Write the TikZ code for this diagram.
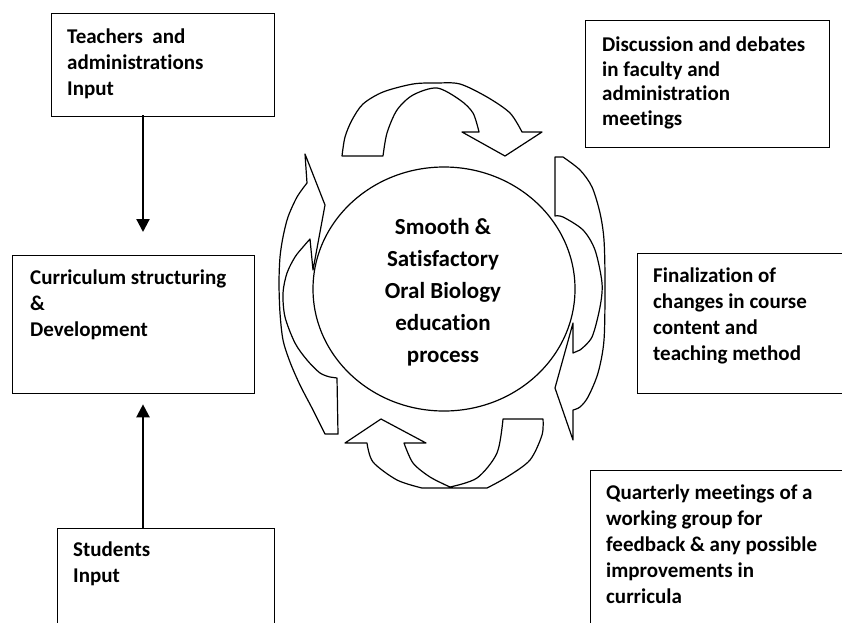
\documentclass[tikz,border=0pt]{standalone}
\usepackage{fontspec}
\setmainfont{Carlito}[Ligatures=NoCommon]
\usetikzlibrary{arrows.meta,shapes.geometric}
\begin{document}
\begin{tikzpicture}[x=1pt,y=-1pt,
  box/.style={draw,line width=1.3pt,inner sep=0pt},
  lbl/.style={anchor=north west,inner sep=0pt,align=left,font=\fontsize{21}{26}\selectfont\bfseries},
  conn/.style={line width=2.2pt,-{Triangle[width=13pt,length=13pt]}},
  carrow/.style={line width=1.2pt,line join=round}]
\clip (0,0) rectangle (842,622);
\fill[white] (0,0) rectangle (842,622);
% boxes
\node[box,anchor=north west,minimum width=223pt,minimum height=103pt] (t) at (51,13) {};
\node[lbl] (tl) at (67,29) {Teachers\ \ and\\administrations\\Input};
\node[box,anchor=north west,minimum width=242pt,minimum height=138pt] (c) at (12,255) {};
\node[lbl] (cl) at (30,270) {Curriculum structuring\\\&\\Development};
\node[box,anchor=north west,minimum width=217pt,minimum height=130pt] (s) at (57,528) {};
\node[lbl] (sl) at (73,542) {Students\\Input};
\node[box,anchor=north west,minimum width=244pt,minimum height=127pt] (d) at (585,20) {};
\node[lbl,font=\fontsize{21}{24.5}\selectfont\bfseries] (dl) at (602,37) {Discussion and debates\\in faculty and\\administration\\meetings};
\node[box,anchor=north west,minimum width=220pt,minimum height=140pt] (f) at (637,253) {};
\node[lbl] (fl) at (653,268) {Finalization of\\changes in course\\content and\\teaching method};
\node[box,anchor=north west,minimum width=270pt,minimum height=180pt] (q) at (590,470) {};
\node[lbl] (ql) at (606,485) {Quarterly meetings of a\\working group for\\feedback \& any possible\\improvements in\\curricula};
% centre
\node[draw,ellipse,line width=1.2pt,minimum width=262pt,minimum height=244pt,inner sep=0pt] (m) at (444,289) {};
\node[align=center,inner sep=0pt,font=\fontsize{23}{32}\selectfont\bfseries] (mt) at (443,292) {Smooth \&\\Satisfactory\\Oral Biology\\education\\process};
% connectors
\coordinate (ta) at ([xshift=92pt]t.south west);
\coordinate (sa) at ([xshift=86pt]s.north west);
\draw[conn,shorten <=-2pt,shorten >=23pt] (ta) -- (ta |- c.north);
\draw[conn,shorten >=10pt] (sa) -- (sa |- c.south);
% curved arrows
\draw[carrow] (342,156) -- plot[smooth] coordinates {(342,156) (345,137) (352,120) (363,104) (383,92) (413,84) (437,83) (460,84) (487,97) (510,113) (522,132)} -- (542,132) -- (505,156) -- (462,132) -- plot[smooth] coordinates {(479,132) (473,113) (460,100) (437,88) (413,95) (397,110) (387,133) (383,156)} -- cycle;
\draw[carrow] (555,157) -- plot[smooth] coordinates {(563,157) (580,170) (592,187) (600,213) (604,240) (605,283) (604,340) (598,373) (588,397) (580,407) (573,410)} -- (573,440) -- (555,388) -- (573,323) -- (573,353) -- plot[smooth] coordinates {(580,350) (592,337) (600,307) (602,283) (595,250) (583,230) (563,217) (555,216)} -- cycle;
\draw[carrow] (325,434) -- (338,434) -- (337,378) -- plot[smooth] coordinates {(330,377) (320,373) (307,360) (295,343) (285,317) (283,293) (287,273) (295,257) (303,247) (310,239)} -- (313,270) -- (325,205) -- (305,154) -- (307,183) -- plot[smooth] coordinates {(307,183) (297,197) (288,217) (283,237) (280,257) (279,283) (280,313) (283,340) (290,362) (300,385) (313,410) (325,434)} -- cycle;
\draw[carrow] (503,419) -- (543,419) -- plot[smooth] coordinates {(543,419) (542,435) (530,460) (507,477) (487,488)} -- (422,488) -- plot[smooth] coordinates {(422,488) (397,480) (373,462) (367,443)} -- (345,443) -- (381,419) -- (426,443) -- (404,443) -- plot[smooth] coordinates {(404,443) (413,463) (430,477) (450,487)} -- plot[smooth] coordinates {(450,487) (477,478) (497,453) (503,419)} -- cycle;
\end{tikzpicture}
\end{document}
